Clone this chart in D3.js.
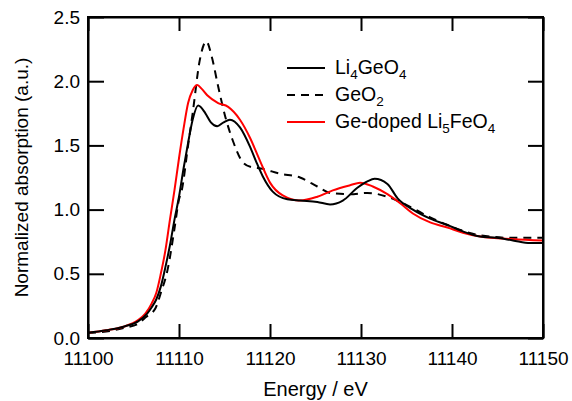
<!DOCTYPE html>
<html>
<head>
<meta charset="utf-8">
<script src="https://cdn.jsdelivr.net/npm/d3@7"></script>
<style>
  body { margin: 0; background: #fff; }
  text { font-family: "Liberation Sans", Arial, sans-serif; }
</style>
</head>
<body>
<div id="chart"></div>
<script>
// Li4GeO4 (solid black)
const li4geo4E = [11100, 11102, 11104, 11105.5, 11106.5, 11107, 11107.5, 11108, 11108.5, 11109, 11109.5, 11110, 11110.5, 11111, 11111.5, 11112.1, 11112.9, 11113.5, 11114.2, 11114.9, 11115.6, 11116.7, 11117.8, 11118.5, 11119.2, 11120.3, 11121.9, 11123.3, 11125.2, 11126.6, 11128, 11129.6, 11130.7, 11131.5, 11132.9, 11134, 11135.7, 11137.6, 11139.5, 11141.2, 11143.1, 11144.9, 11146.7, 11148.6, 11150];
const li4geo4 = [0.04, 0.06, 0.09, 0.13, 0.19, 0.24, 0.30, 0.40, 0.55, 0.72, 0.92, 1.10, 1.32, 1.52, 1.70, 1.81, 1.75, 1.68, 1.65, 1.68, 1.70, 1.64, 1.49, 1.37, 1.26, 1.14, 1.08, 1.07, 1.06, 1.04, 1.07, 1.17, 1.22, 1.24, 1.20, 1.09, 1.00, 0.93, 0.88, 0.83, 0.79, 0.78, 0.76, 0.74, 0.74];

// GeO2 (dashed black)
const geo2E = [11100, 11102, 11104, 11105.5, 11106.3, 11107.4, 11108, 11108.8, 11109.5, 11110, 11110.3, 11111, 11111.5, 11112.3, 11113, 11113.6, 11114.3, 11115.1, 11115.9, 11117, 11118, 11119, 11121.1, 11123.3, 11125.2, 11126.6, 11128.8, 11130.7, 11132.9, 11134.3, 11137.6, 11139.5, 11143.1, 11146.7, 11150];
const geo2 = [0.04, 0.05, 0.08, 0.11, 0.16, 0.23, 0.35, 0.55, 0.85, 1.08, 1.15, 1.50, 1.75, 2.17, 2.31, 2.19, 1.96, 1.72, 1.54, 1.37, 1.33, 1.32, 1.28, 1.25, 1.18, 1.13, 1.12, 1.13, 1.10, 1.06, 0.94, 0.88, 0.80, 0.78, 0.78];

// Ge-doped Li5FeO4 (red)
const gedopedE = [11100, 11102, 11104, 11105.5, 11106.3, 11107, 11107.5, 11108, 11108.5, 11109, 11109.5, 11110, 11110.5, 11111, 11111.5, 11112, 11112.5, 11113.1, 11114.3, 11115.4, 11116.7, 11117.8, 11118.9, 11120, 11121.4, 11123.3, 11125.2, 11126.9, 11128.8, 11129.9, 11131.3, 11132.9, 11134.3, 11135.7, 11137.6, 11139.5, 11141.2, 11143.1, 11146.7, 11150];
const gedoped = [0.04, 0.06, 0.09, 0.14, 0.19, 0.27, 0.35, 0.50, 0.68, 0.92, 1.15, 1.40, 1.63, 1.83, 1.93, 1.97, 1.94, 1.89, 1.83, 1.80, 1.70, 1.56, 1.38, 1.21, 1.11, 1.07, 1.10, 1.15, 1.19, 1.21, 1.18, 1.12, 1.05, 0.97, 0.90, 0.86, 0.82, 0.79, 0.77, 0.76];

const xTicks = [11100, 11110, 11120, 11130, 11140, 11150];
const yTicks = [0.0, 0.5, 1.0, 1.5, 2.0, 2.5];

const W = 572, H = 401;
const margin = {top: 17, right: 29, bottom: 63, left: 88};
const width = W - margin.left - margin.right,
      height = H - margin.top - margin.bottom;

const svg = d3.select("#chart").append("svg")
    .attr("width", W).attr("height", H);
const g = svg.append("g")
    .attr("transform", "translate(" + margin.left + "," + margin.top + ")");

const x = d3.scaleLinear().domain([11100, 11150]).range([0, width]);
const y = d3.scaleLinear().domain([0, 2.5]).range([height, 0]);

// clip so curves stay in the frame
g.append("clipPath").attr("id", "clip")
  .append("rect").attr("width", width).attr("height", height);

const line = d3.line()
    .x(d => x(d[0])).y(d => y(d[1]))
    .curve(d3.curveMonotoneX);

const series = [
  {name: "GeO2", e: geo2E, v: geo2, color: "#000", dash: "8,6"},
  {name: "Ge-doped", e: gedopedE, v: gedoped, color: "#ff0000", dash: null},
  {name: "Li4GeO4", e: li4geo4E, v: li4geo4, color: "#000", dash: null}
];

series.forEach(s => {
  g.append("path")
    .datum(s.e.map((e, i) => [e, s.v[i]]))
    .attr("clip-path", "url(#clip)")
    .attr("fill", "none")
    .attr("stroke", s.color)
    .attr("stroke-width", 2)
    .attr("stroke-dasharray", s.dash)
    .attr("d", line);
});

// axes, ticks pointing inward
const fs = "19px";
g.append("g").attr("transform", "translate(0," + height + ")")
  .call(d3.axisBottom(x).tickValues(xTicks).tickFormat(d3.format("d")).tickSizeInner(-14).tickSizeOuter(0).tickPadding(14));
g.append("g")
  .call(d3.axisLeft(y).tickValues(yTicks).tickFormat(d3.format(".1f")).tickSizeInner(-16).tickSizeOuter(0).tickPadding(8));
g.append("g")
  .call(d3.axisTop(x).tickValues(xTicks).tickFormat("").tickSizeInner(-14).tickSizeOuter(0));
g.append("g").attr("transform", "translate(" + width + ",0)")
  .call(d3.axisRight(y).tickValues(yTicks).tickFormat("").tickSizeInner(-15).tickSizeOuter(0));

g.selectAll(".domain").attr("stroke", "#000").attr("stroke-width", 2);
g.selectAll(".tick line").attr("stroke", "#000").attr("stroke-width", 2);
g.selectAll(".tick text").attr("fill", "#000")
  .style("font-size", fs)
  .style("font-family", "'Liberation Sans', Arial, sans-serif");

// frame
g.append("rect").attr("width", width).attr("height", height)
  .attr("fill", "none").attr("stroke", "#000").attr("stroke-width", 2);

// axis titles
svg.append("text")
  .attr("x", margin.left + width / 2).attr("y", 396)
  .attr("text-anchor", "middle").style("font-size", "20px")
  .text("Energy / eV");
svg.append("text")
  .attr("transform", "translate(28," + (margin.top + height / 2) + ") rotate(-90)")
  .attr("text-anchor", "middle").style("font-size", "19px")
  .text("Normalized absorption (a.u.)");

// legend
const legendItems = [
  {parts: [["Li", 0], ["4", 1], ["GeO", 0], ["4", 1]], color: "#000", dash: null},
  {parts: [["GeO", 0], ["2", 1]], color: "#000", dash: "8,6"},
  {parts: [["Ge-doped Li", 0], ["5", 1], ["FeO", 0], ["4", 1]], color: "#ff0000", dash: null}
];
const leg = svg.append("g");
legendItems.forEach((it, i) => {
  const ly = 68 + i * 27;
  leg.append("line")
    .attr("x1", 287).attr("x2", 325).attr("y1", ly).attr("y2", ly)
    .attr("stroke", it.color).attr("stroke-width", 2)
    .attr("stroke-dasharray", it.dash);
  const t = leg.append("text").attr("x", 335).attr("y", ly + 6).style("font-size", "19.5px");
  it.parts.forEach((p, k) => {
    const prev = it.parts[k - 1];
    let dy = 0;
    if (p[1] && !(prev && prev[1])) dy = 5;
    if (!p[1] && prev && prev[1]) dy = -5;
    const ts = t.append("tspan").text(p[0]).attr("dy", dy);
    if (p[1]) ts.style("font-size", "13.5px");
  });
});
</script>
</body>
</html>
